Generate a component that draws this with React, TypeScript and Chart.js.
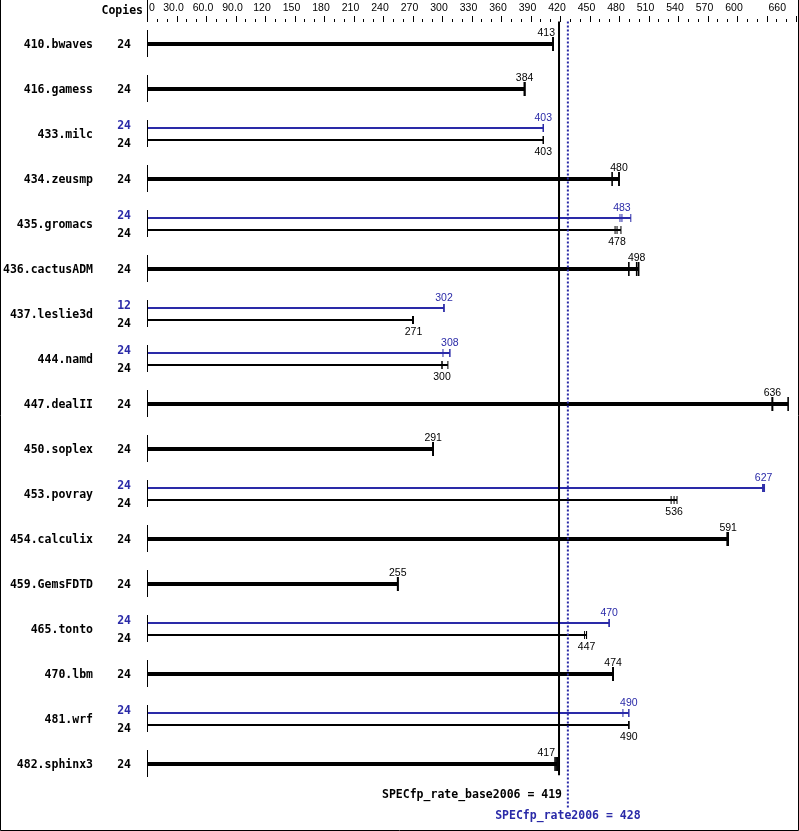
import React, { useEffect, useRef } from "react";
import { Chart, registerables } from "chart.js";
Chart.register(...registerables);

const BENCHMARKS = [
  "410.bwaves", "416.gamess", "433.milc", "434.zeusmp", "435.gromacs", "436.cactusADM",
  "437.leslie3d", "444.namd", "447.dealII", "450.soplex", "453.povray", "454.calculix",
  "459.GemsFDTD", "465.tonto", "470.lbm", "481.wrf", "482.sphinx3",
];
const BASE_COPIES = [24, 24, 24, 24, 24, 24, 24, 24, 24, 24, 24, 24, 24, 24, 24, 24, 24];
const PEAK_COPIES: (number | null)[] = [null, null, 24, null, 24, null, 12, 24, null, null, 24, null, null, 24, null, 24, null];
const BASE_RATIO = [413, 384, 403, 480, 478, 498, 271, 300, 636, 291, 536, 591, 255, 447, 474, 490, 417];
const PEAK_RATIO: (number | null)[] = [null, null, 403, null, 483, null, 302, 308, null, null, 627, null, null, 470, null, 490, null];
const BASE_RUNS = [
  [413, 413, 413], [384, 384, 384], [403, 403, 403], [473, 480, 480], [476, 478, 482],
  [490, 498, 500], [270, 271, 271], [300, 300, 306], [636, 636, 652], [291, 291, 291],
  [533, 536, 539], [590, 591, 591], [255, 255, 255], [445, 447, 447], [474, 474, 474],
  [490, 490, 490], [415, 417, 417],
];
const PEAK_RUNS: (number[] | null)[] = [
  null, null, [403, 403, 403], null, [481, 483, 492], null, [302, 302, 302], [301, 308, 308],
  null, null, [626, 627, 628], null, null, [470, 470, 470], null, [484, 490, 490], null,
];
const AXIS_TICKS = [0, 30, 60, 90, 120, 150, 180, 210, 240, 270, 300, 330, 360, 390, 420, 450, 480, 510, 540, 570, 600, 660];
const AXIS_LABELS = ["0", "30.0", "60.0", "90.0", "120", "150", "180", "210", "240", "270", "300", "330", "360", "390", "420", "450", "480", "510", "540", "570", "600", "660"];
const AXIS_MAX = 660;
const MINOR_STEP = 10;
const MAJOR_STEP = 30;
const BASE_SCORE = 419;
const PEAK_SCORE = 428;
const BASE_SCORE_LABEL = "SPECfp_rate_base2006 = 419";
const PEAK_SCORE_LABEL = "SPECfp_rate2006 = 428";

const BLUE = "#2a2aa8";
const BLACK = "#000000";
const OFF = 6 / 45;
const MONO = '"DejaVu Sans Mono", monospace';
const SANS = '"Liberation Sans", Arial, sans-serif';

export default function App() {
  const ref = useRef<HTMLCanvasElement>(null);
  useEffect(() => {
    const canvas = ref.current!;
    const datasets: any[] = [];
    BENCHMARKS.forEach((_, i) => {
      const hasPeak = PEAK_RATIO[i] != null;
      const baseRuns = BASE_RUNS[i];
      const baseY = hasPeak ? i + OFF : i;
      datasets.push({
        data: [{ x: 0, y: baseY }, { x: Math.max(...baseRuns), y: baseY }],
        showLine: true, borderColor: BLACK, borderWidth: hasPeak ? 2 : 4,
        pointRadius: 0, borderCapStyle: "butt", order: 3,
      });
      datasets.push({
        data: baseRuns.map((v) => ({ x: v, y: baseY })),
        showLine: false, pointStyle: "line", pointRotation: 90,
        pointRadius: hasPeak ? 4 : 7, pointBorderWidth: hasPeak ? 1 : 1.6,
        pointBorderColor: BLACK, pointBackgroundColor: BLACK, order: 2,
      });
      if (hasPeak) {
        const peakRuns = PEAK_RUNS[i]!;
        const peakY = i - OFF;
        datasets.push({
          data: [{ x: 0, y: peakY }, { x: Math.max(...peakRuns), y: peakY }],
          showLine: true, borderColor: BLUE, borderWidth: 2,
          pointRadius: 0, borderCapStyle: "butt", order: 3,
        });
        datasets.push({
          data: peakRuns.map((v) => ({ x: v, y: peakY })),
          showLine: false, pointStyle: "line", pointRotation: 90,
          pointRadius: 4, pointBorderWidth: 1,
          pointBorderColor: BLUE, pointBackgroundColor: BLUE, order: 2,
        });
      }
    });
    datasets.push({
      data: [{ x: BASE_SCORE, y: -0.5 }, { x: BASE_SCORE, y: 16.25 }],
      showLine: true, borderColor: BLACK, borderWidth: 2, pointRadius: 0,
      borderCapStyle: "butt", clip: false, order: 1,
    });
    datasets.push({
      data: [{ x: PEAK_SCORE, y: -0.5 }, { x: PEAK_SCORE, y: 17.0 }],
      showLine: true, borderColor: BLUE, borderWidth: 2, borderDash: [2, 2], pointRadius: 0,
      borderCapStyle: "butt", clip: false, order: 0,
    });

    const overlay = {
      id: "overlay",
      afterDraw(chart: any) {
        const ctx = chart.ctx as CanvasRenderingContext2D;
        const xs = chart.scales.x;
        const ys = chart.scales.y;
        const x0 = Math.round(xs.getPixelForValue(0)) + 0.5;
        ctx.save();
        ctx.strokeStyle = BLACK;
        ctx.lineWidth = 1;
        ctx.beginPath();
        for (let v = 0; v <= AXIS_MAX; v += MINOR_STEP) {
          const px = Math.round(xs.getPixelForValue(v)) + 0.5;
          if (v === 0) { ctx.moveTo(px, 0); ctx.lineTo(px, 22); }
          else if (v % MAJOR_STEP === 0) { ctx.moveTo(px, 16); ctx.lineTo(px, 22); }
          else { ctx.moveTo(px, 19); ctx.lineTo(px, 22); }
        }
        ctx.stroke();
        ctx.fillStyle = BLACK;
        ctx.font = `10.5px ${SANS}`;
        ctx.textBaseline = "alphabetic";
        AXIS_TICKS.forEach((v, k) => {
          const px = xs.getPixelForValue(v);
          if (k === 0) { ctx.textAlign = "left"; ctx.fillText(AXIS_LABELS[k], px + 2, 11); }
          else if (k === AXIS_TICKS.length - 1) { ctx.textAlign = "right"; ctx.fillText(AXIS_LABELS[k], px - 10, 11); }
          else { ctx.textAlign = "center"; ctx.fillText(AXIS_LABELS[k], px - 3, 11); }
        });
        ctx.font = `bold 11.5px ${MONO}`;
        ctx.textAlign = "right";
        ctx.fillText("Copies", 143, 14);

        const refX = xs.getPixelForValue(BASE_SCORE);
        const valueLabel = (txt: string, v: number, y: number, color: string) => {
          ctx.font = `10.5px ${SANS}`;
          const w = ctx.measureText(txt).width;
          let cx = xs.getPixelForValue(v);
          const right = cx + w / 2;
          const limit = refX - 4;
          if (right > limit && cx < refX) cx -= right - limit;
          ctx.fillStyle = color;
          ctx.textAlign = "center";
          ctx.fillText(txt, cx, y);
        };

        BENCHMARKS.forEach((name, i) => {
          const c = ys.getPixelForValue(i);
          const hasPeak = PEAK_RATIO[i] != null;
          ctx.strokeStyle = BLACK;
          ctx.lineWidth = 1;
          ctx.beginPath();
          ctx.moveTo(x0, c - 14);
          ctx.lineTo(x0, c + 13);
          ctx.stroke();
          ctx.font = `bold 11.5px ${MONO}`;
          ctx.fillStyle = BLACK;
          ctx.textAlign = "right";
          ctx.textBaseline = "alphabetic";
          ctx.fillText(name, 93, c + 4);
          if (hasPeak) {
            ctx.fillStyle = BLUE;
            ctx.fillText(String(PEAK_COPIES[i]), 131, c - 5);
            ctx.fillStyle = BLACK;
            ctx.fillText(String(BASE_COPIES[i]), 131, c + 13);
            valueLabel(String(PEAK_RATIO[i]), PEAK_RATIO[i]!, c - 13, BLUE);
            valueLabel(String(BASE_RATIO[i]), BASE_RATIO[i], c + 21, BLACK);
          } else {
            ctx.fillText(String(BASE_COPIES[i]), 131, c + 4);
            valueLabel(String(BASE_RATIO[i]), BASE_RATIO[i], c - 8, BLACK);
          }
        });

        ctx.font = `bold 11.5px ${MONO}`;
        ctx.fillStyle = BLACK;
        ctx.textAlign = "right";
        ctx.fillText(BASE_SCORE_LABEL, refX + 3, 798);
        ctx.fillStyle = BLUE;
        ctx.textAlign = "center";
        ctx.fillText(PEAK_SCORE_LABEL, xs.getPixelForValue(PEAK_SCORE), 819);

        ctx.strokeStyle = BLACK;
        ctx.lineWidth = 1;
        ctx.beginPath();
        ctx.moveTo(0.5, 0);
        ctx.lineTo(0.5, 830.5);
        ctx.lineTo(798.5, 830.5);
        ctx.lineTo(798.5, 0);
        ctx.stroke();
        ctx.restore();
      },
    };

    const chart = new Chart(canvas, {
      type: "scatter",
      data: { datasets },
      options: {
        animation: false,
        responsive: false,
        events: [],
        layout: { autoPadding: false, padding: { left: 147, right: 3, top: 21.5, bottom: 44.5 } },
        plugins: { legend: { display: false }, tooltip: { enabled: false } },
        scales: {
          x: { type: "linear", min: 0, max: AXIS_MAX, display: false },
          y: { type: "linear", min: -0.5, max: 16.5, reverse: true, display: false },
        },
      },
      plugins: [overlay],
    });
    return () => chart.destroy();
  }, []);

  return (
    <div style={{ position: "absolute", left: 0, top: 0, width: 799, height: 831, background: "#fff" }}>
      <canvas ref={ref} width={799} height={831} style={{ display: "block", width: 799, height: 831 }} />
    </div>
  );
}
